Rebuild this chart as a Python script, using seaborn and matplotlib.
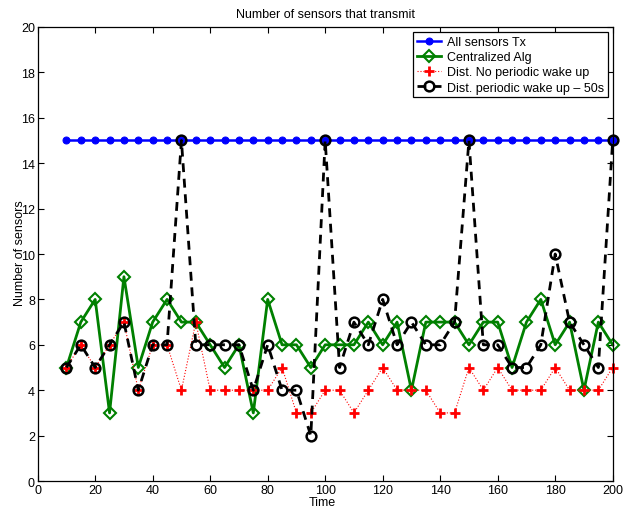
# Number of sensors that transmit, per time step

import numpy as np
import matplotlib
matplotlib.use('Agg')
import matplotlib.pyplot as plt
import seaborn as sns

plt.rcParams['font.family'] = ['Liberation Sans', 'DejaVu Sans']
plt.rc('font', size=9)

# data
time = list(range(10, 201, 5))
allSensors = [15] * len(time)
centralized = [5, 7, 8, 3, 9, 5, 7, 8, 7, 7, 6, 5, 6, 3, 8, 6, 6, 5, 6, 6,
               6, 7, 6, 7, 4, 7, 7, 7, 6, 7, 7, 5, 7, 8, 6, 7, 4, 7, 6]
distNoWake = [5, 6, 5, 6, 7, 4, 6, 6, 4, 7, 4, 4, 4, 4, 4, 5, 3, 3, 4, 4,
              3, 4, 5, 4, 4, 4, 3, 3, 5, 4, 5, 4, 4, 4, 5, 4, 4, 4, 5]
distWake50 = [5, 6, 5, 6, 7, 4, 6, 6, 15, 6, 6, 6, 6, 4, 6, 4, 4, 2, 15, 5,
              7, 6, 8, 6, 7, 6, 6, 7, 15, 6, 6, 5, 5, 6, 10, 7, 6, 5, 15]
labels = ['All sensors Tx', 'Centralized Alg', 'Dist. No periodic wake up',
          'Dist. periodic wake up \u2013 50s']

fig = plt.figure(figsize=(6.31, 5.10), dpi=100)
ax = fig.add_axes([0.0597, 0.0549, 0.9113, 0.8902])

sns.lineplot(x=time, y=allSensors, ax=ax, color='#0000ff', linewidth=1.8,
             marker='o', markersize=5, markeredgecolor='#0000ff', label=labels[0])
sns.lineplot(x=time, y=centralized, ax=ax, color='#008000', linewidth=2.0,
             marker='D', markersize=6.5, markerfacecolor='none', markeredgecolor='#008000',
             markeredgewidth=1.5, label=labels[1])
sns.lineplot(x=time, y=distNoWake, ax=ax, color='#ff0000', linewidth=0.8, linestyle=':',
             marker='P', markersize=0.01, label=labels[2])
ax.lines[-1].set_marker('+')
ax.lines[-1].set_markersize(6.5)
ax.lines[-1].set_markeredgewidth(2)
ax.lines[-1].set_markeredgecolor('#ff0000')
sns.lineplot(x=time, y=distWake50, ax=ax, color='black', linewidth=2.0, linestyle='--',
             marker='o', markersize=7, markerfacecolor='none', markeredgecolor='black',
             markeredgewidth=1.8, label=labels[3])
ax.lines[-1].set_dashes((3.2, 2.4))
for ln in ax.lines:
    ln.set_clip_on(False)

ax.set_xlim(0, 200)
ax.set_ylim(0, 20)
ax.set_xticks(np.arange(0, 201, 20))
ax.set_yticks(np.arange(0, 21, 2))
ax.tick_params(direction='in', top=True, right=True, length=4, width=0.8, pad=2, labelsize=9)
for s in ax.spines.values():
    s.set_linewidth(0.9)

ax.set_title('Number of sensors that transmit', fontsize=9, pad=7)
ax.set_xlabel('Time', fontsize=9)
ax.set_ylabel('Number of sensors', fontsize=9)
ax.xaxis.set_label_coords(0.495, -0.034)
ax.yaxis.set_label_coords(-0.021, 0.505)

leg = ax.legend(loc='upper right', bbox_to_anchor=(0.9913, 0.988), borderaxespad=0,
                fontsize=9, handlelength=1.9, handletextpad=0.5, labelspacing=0.25,
                borderpad=0.3, fancybox=False, framealpha=1, edgecolor='black')
leg.get_frame().set_linewidth(0.9)
leg.set_zorder(5)

fig.savefig('out.png', dpi=100)
